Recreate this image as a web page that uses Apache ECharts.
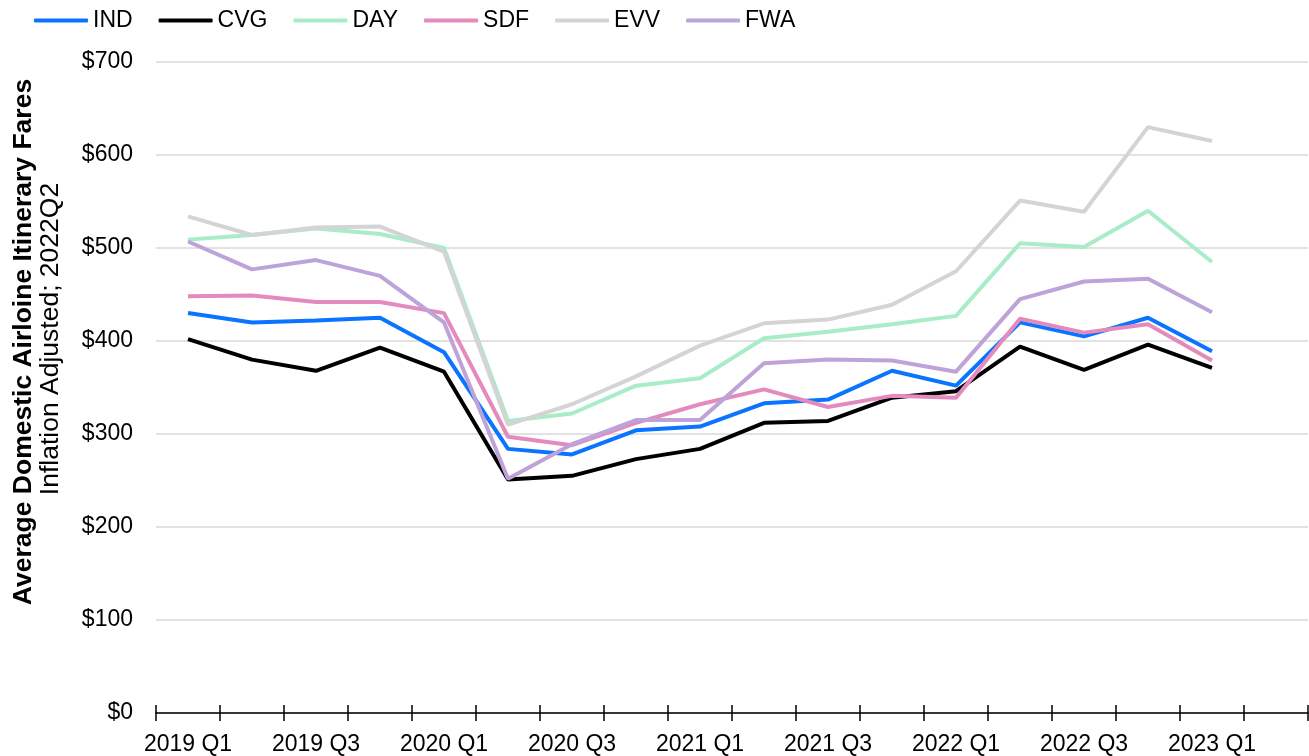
<!DOCTYPE html>
<html>
<head>
<meta charset="utf-8">
<script src="https://cdn.jsdelivr.net/npm/echarts@6/dist/echarts.min.js"></script>
<style>
html,body{margin:0;padding:0;background:#fff;}
#chart{width:1309px;height:756px;}
</style>
</head>
<body>
<div id="chart"></div>
<script>
const categories = ['2019 Q1','2019 Q2','2019 Q3','2019 Q4','2020 Q1','2020 Q2','2020 Q3','2020 Q4','2021 Q1','2021 Q2','2021 Q3','2021 Q4','2022 Q1','2022 Q2','2022 Q3','2022 Q4','2023 Q1','2023 Q2'];
const IND = [430, 420, 422, 425, 388, 284, 278, 304, 308, 333, 337, 368, 352, 420, 405, 425, 389];
const CVG = [402, 380, 368, 393, 367, 251, 255, 273, 284, 312, 314, 339, 346, 394, 369, 396, 371];
const DAY = [509, 514, 521, 515, 500, 314, 322, 352, 360, 403, 410, 418, 427, 505, 501, 540, 485];
const SDF = [448, 449, 442, 442, 430, 297, 288, 312, 332, 348, 329, 341, 339, 424, 409, 418, 379];
const EVV = [534, 514, 522, 523, 496, 310, 332, 362, 395, 419, 423, 439, 475, 551, 539, 630, 615];
const FWA = [507, 477, 487, 470, 420, 252, 289, 315, 315, 376, 380, 379, 367, 445, 464, 467, 431];
const yTicks = [0, 100, 200, 300, 400, 500, 600, 700];
const titleBold = 'Average Domestic Airloine Itinerary Fares';
const titleSub = 'Inflation Adjusted; 2022Q2';

const seriesDefs = [
  ['IND', IND, '#0A74FF'],
  ['CVG', CVG, '#000000'],
  ['DAY', DAY, '#A8ECC8'],
  ['SDF', SDF, '#E48BBE'],
  ['EVV', EVV, '#D4D4D4'],
  ['FWA', FWA, '#BDA3D8']
];
const FONT = 'Liberation Sans, Arial, sans-serif';

const chart = echarts.init(document.getElementById('chart'), null, {renderer: 'canvas'});
chart.setOption({
  animation: false,
  color: seriesDefs.map(s => s[2]),
  legend: {
    left: 29, top: 4,
    icon: 'roundRect',
    itemWidth: 54, itemHeight: 4, itemGap: 26,
    textStyle: {fontFamily: FONT, fontSize: 23, color: '#000'},
    data: seriesDefs.map(s => s[0])
  },
  grid: {left: 156, right: 1, top: 62, bottom: 41, containLabel: false},
  xAxis: [{
    type: 'category',
    data: categories,
    boundaryGap: true,
    position: 'bottom',
    axisLine: {show: true, lineStyle: {color: '#000', width: 1.5}},
    axisTick: {show: true, interval: 0, length: 8, lineStyle: {color: '#000', width: 1.5}},
    axisLabel: {interval: 1, fontFamily: FONT, fontSize: 23, color: '#000', margin: 20},
    splitLine: {show: false}
  }, {
    type: 'category',
    data: categories,
    boundaryGap: true,
    position: 'bottom',
    offset: 0,
    axisLine: {show: false},
    axisTick: {show: true, inside: true, interval: 0, length: 8, lineStyle: {color: '#000', width: 1.5}},
    axisLabel: {show: false},
    splitLine: {show: false}
  }],
  yAxis: {
    type: 'value',
    min: yTicks[0], max: yTicks[yTicks.length - 1], interval: 100,
    axisLine: {show: false},
    axisTick: {show: false},
    axisLabel: {fontFamily: FONT, fontSize: 23, color: '#000', margin: 23, formatter: v => '$' + v},
    splitLine: {lineStyle: {color: '#D9D9D9', width: 1.5}}
  },
  graphic: [{
    type: 'text', x: 24, y: 342, rotation: Math.PI / 2,
    style: {text: titleBold, fontFamily: FONT, fontWeight: 'bold', fontSize: 26.5, fill: '#000', align: 'center', verticalAlign: 'middle'}
  }, {
    type: 'text', x: 51, y: 339, rotation: Math.PI / 2,
    style: {text: titleSub, fontFamily: FONT, fontSize: 26.5, fill: '#000', align: 'center', verticalAlign: 'middle'}
  }],
  series: seriesDefs.map(s => ({
    name: s[0], type: 'line', data: s[1], xAxisIndex: 0,
    symbol: 'none', showSymbol: false,
    lineStyle: {width: 4, color: s[2]},
    itemStyle: {color: s[2]}
  }))
});
</script>
</body>
</html>
